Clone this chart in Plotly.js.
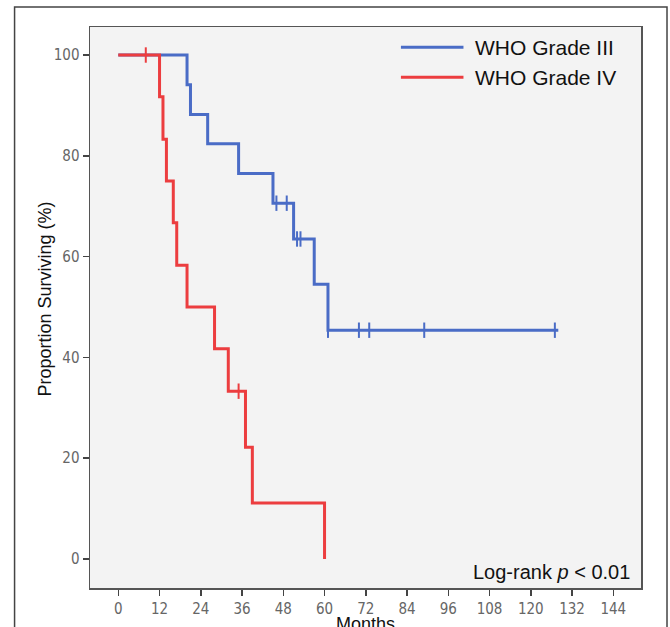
<!DOCTYPE html>
<html>
<head>
<meta charset="utf-8">
<script src="https://cdn.plot.ly/plotly-3.0.1.min.js"></script>
<style>html,body{margin:0;padding:0;background:#fff;}#chart{width:670px;height:627px;}</style>
</head>
<body>
<div id="chart"></div>
<script>
// Grade III (blue) Kaplan-Meier steps
var gradeIIIMonths = [0, 20, 21, 26, 35, 45, 51, 57, 61, 128];
var gradeIIISurv   = [100, 94.1, 88.2, 82.4, 76.5, 70.6, 63.5, 54.5, 45.4, 45.4];
var gradeIIICensorMonths = [46, 49, 52, 53, 61, 70, 73, 89, 127];
var gradeIIICensorSurv   = [70.6, 70.6, 63.5, 63.5, 45.4, 45.4, 45.4, 45.4, 45.4];
// Grade IV (red)
var gradeIVMonths = [0, 12, 13, 14, 16, 17, 20, 28, 32, 37, 39, 60, 60];
var gradeIVSurv   = [100, 91.7, 83.3, 75.0, 66.7, 58.3, 50.0, 41.7, 33.3, 22.2, 11.1, 11.1, 0];
var gradeIVCensorMonths = [8, 35];
var gradeIVCensorSurv   = [100, 33.3];

var seriesNames = ['WHO Grade III', 'WHO Grade IV'];
var xTicks = [0, 12, 24, 36, 48, 60, 72, 84, 96, 108, 120, 132, 144];
var yTicks = [0, 20, 40, 60, 80, 100];
var xTitle = 'Months';
var yTitle = 'Proportion Surviving (%)';

var blue = '#4a6cc6';
var red = '#ec3d3f';

var traces = [
  {x: gradeIIIMonths, y: gradeIIISurv, type: 'scatter', mode: 'lines', line: {shape: 'hv', color: blue, width: 3}, name: seriesNames[0], showlegend: false},
  {x: gradeIVMonths, y: gradeIVSurv, type: 'scatter', mode: 'lines', line: {shape: 'hv', color: red, width: 3}, name: seriesNames[1], showlegend: false},
  {x: gradeIIICensorMonths, y: gradeIIICensorSurv, type: 'scatter', mode: 'markers', marker: {symbol: 'line-ns', size: 11, line: {color: blue, width: 2}}, showlegend: false, name: seriesNames[0] + ' censored'},
  {x: gradeIVCensorMonths, y: gradeIVCensorSurv, type: 'scatter', mode: 'markers', marker: {symbol: 'line-ns', size: 11, line: {color: red, width: 2}}, showlegend: false, name: seriesNames[1] + ' censored'}
];

var tickFont = {family: 'DejaVu Sans Condensed, Liberation Sans Narrow, sans-serif', size: 15, color: '#666'};
var titleFont = {family: 'Liberation Sans, Arial, sans-serif', size: 18, color: '#111'};

var layout = {
  width: 670, height: 627,
  margin: {l: 90, r: 29, t: 27, b: 39},
  paper_bgcolor: '#ffffff',
  plot_bgcolor: '#f3f3f3',
  showlegend: false,
  xaxis: {
    range: [-8.23, 152.06], tickvals: xTicks, ticktext: xTicks.map(String),
    ticks: 'outside', ticklen: 6, tickwidth: 1.5, tickcolor: '#444',
    showline: true, linecolor: '#555', linewidth: 1.5, mirror: true,
    showgrid: false, zeroline: false, tickfont: tickFont,
    automargin: false
  },
  yaxis: {
    range: [-5.75, 105.56], tickvals: yTicks, ticktext: yTicks.map(String),
    ticks: 'outside', ticklen: 6, tickwidth: 1.5, tickcolor: '#444',
    showline: true, linecolor: '#555', linewidth: 1.5, mirror: true,
    showgrid: false, zeroline: false, tickfont: tickFont,
    automargin: false
  },
  shapes: [
    {type: 'rect', xref: 'paper', yref: 'paper', x0: -0.1369, x1: 1.0472, y0: -0.2, y1: 1.0357, line: {color: '#444', width: 1.5}, fillcolor: 'rgba(0,0,0,0)', layer: 'below'},
    {type: 'line', xref: 'paper', yref: 'paper', x0: 0.5643, x1: 0.6778, y0: 0.9638, y1: 0.9638, line: {color: blue, width: 3}},
    {type: 'line', xref: 'paper', yref: 'paper', x0: 0.5643, x1: 0.6778, y0: 0.9103, y1: 0.9103, line: {color: red, width: 3}}
  ],
  annotations: [
    {xref: 'paper', yref: 'paper', x: 0.6948, y: 0.9638, xanchor: 'left', yanchor: 'middle', showarrow: false, text: seriesNames[0], font: {family: 'Liberation Sans, Arial, sans-serif', size: 21, color: '#111'}},
    {xref: 'paper', yref: 'paper', x: 0.6948, y: 0.9103, xanchor: 'left', yanchor: 'middle', showarrow: false, text: seriesNames[1], font: {family: 'Liberation Sans, Arial, sans-serif', size: 21, color: '#111'}},
    {xref: 'paper', yref: 'paper', x: 0.9837, y: 0.0285, xanchor: 'right', yanchor: 'middle', showarrow: false, text: 'Log-rank <i>p</i> &lt; 0.01', font: {family: 'Liberation Sans, Arial, sans-serif', size: 20, color: '#111'}},
    {xref: 'paper', yref: 'paper', x: 0.5, y: -0.0428, xanchor: 'center', yanchor: 'top', showarrow: false, text: xTitle, font: titleFont},
    {xref: 'paper', yref: 'paper', x: -0.0807, y: 0.515, xanchor: 'center', yanchor: 'middle', textangle: -90, showarrow: false, text: yTitle, font: titleFont}
  ]
};

Plotly.newPlot('chart', traces, layout, {displayModeBar: false, staticPlot: true});
</script>
</body>
</html>
